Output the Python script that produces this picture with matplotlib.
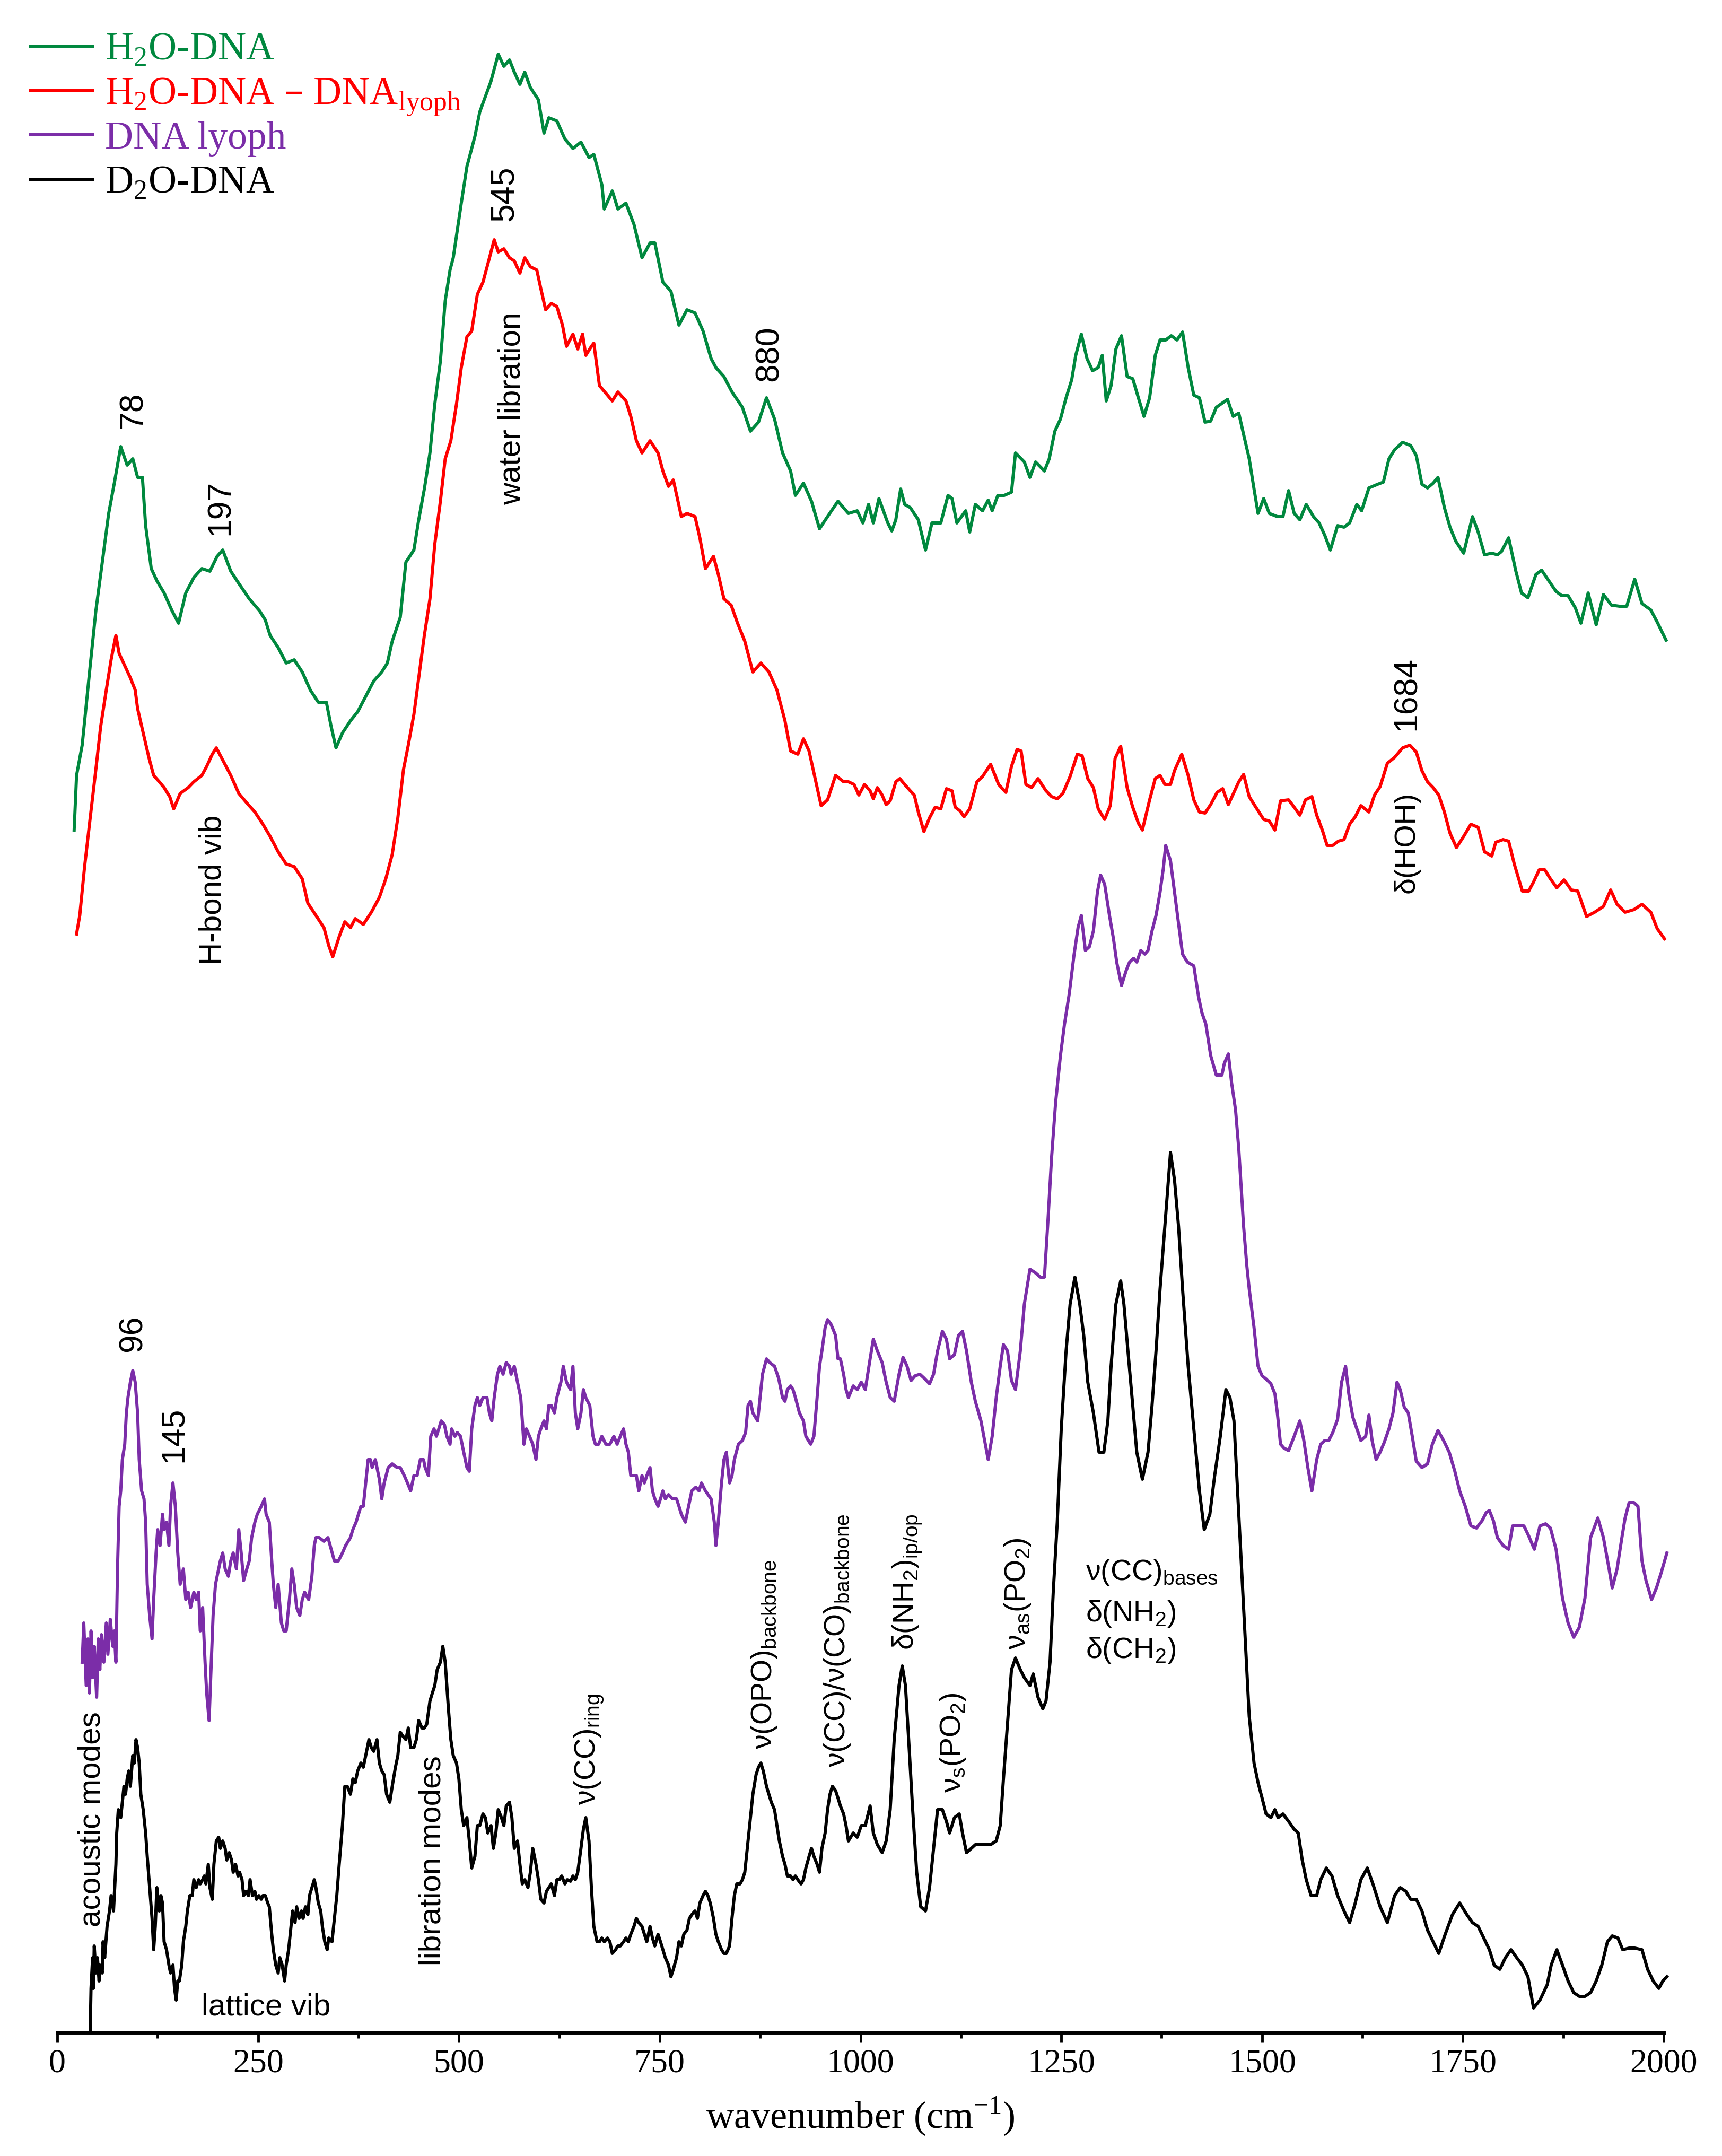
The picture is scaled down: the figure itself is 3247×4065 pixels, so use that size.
import matplotlib
matplotlib.use('Agg')
import matplotlib.pyplot as plt
from matplotlib.lines import Line2D
from matplotlib.ticker import MultipleLocator

plt.rcParams['font.family'] = ['Liberation Sans', 'DejaVu Sans']

# ---- spectra (wavenumber in cm-1, intensity in arbitrary offset units) ----
h2o_wn = [21, 24, 31, 41, 48, 57, 64, 71, 79, 87, 94, 100, 106, 110, 117, 124, 133, 143, 151, 160,
          170, 180, 190, 199, 206, 216, 226, 239, 252, 259, 265, 275, 285, 295, 305, 315, 325, 335, 341, 347,
          355, 365, 374, 384, 394, 404, 411, 417, 427, 434, 444, 450, 457, 464, 470, 477, 483, 489, 493, 503,
          510, 520, 526, 533, 540, 549, 556, 563, 569, 576, 582, 589, 599, 606, 612, 622, 632, 642, 652, 662,
          668, 678, 681, 691, 698, 708, 718, 728, 738, 744, 754, 764, 774, 784, 794, 804, 814, 820, 830, 840,
          853, 863, 873, 883, 893, 903, 913, 919, 929, 939, 949, 959, 972,
          985, 996, 1003, 1010, 1016, 1023, 1034, 1039, 1044, 1050, 1055, 1062, 1072, 1081, 1089, 1100, 1109, 1114, 1120, 1131,
          1136, 1143, 1152, 1159, 1164, 1171, 1179, 1188, 1193, 1204, 1211, 1218, 1229, 1235, 1242, 1249, 1256, 1263, 1268, 1275,
          1282, 1289, 1296, 1301, 1306, 1312, 1318, 1325, 1332, 1339, 1346, 1353, 1360, 1367, 1373, 1380, 1387, 1394, 1401, 1408,
          1415, 1422, 1429, 1436, 1443, 1457, 1464, 1471, 1477, 1484, 1490, 1495, 1502, 1509, 1519, 1526, 1533, 1540, 1547, 1555,
          1564, 1571, 1578, 1585, 1594, 1602, 1609, 1618, 1624, 1633, 1644, 1651, 1658, 1665, 1675, 1685, 1692, 1699, 1706, 1713,
          1719, 1727, 1734, 1741, 1751, 1762, 1769, 1777, 1786, 1793, 1798, 1807, 1816, 1823, 1831, 1841, 1848, 1857, 1866, 1873,
          1881, 1890, 1897, 1906, 1916, 1925, 1935, 1945, 1954, 1964, 1973, 1984, 1992, 2003]
h2o_int = [2267, 2370, 2427, 2577, 2680, 2783, 2864, 2921, 2990, 2955, 2967, 2932, 2932, 2841, 2760, 2737, 2714, 2680, 2657, 2714,
           2743, 2760, 2755, 2783, 2795, 2755, 2732, 2703, 2680, 2663, 2634, 2611, 2582, 2588, 2565, 2531, 2508, 2508, 2462, 2422,
           2450, 2473, 2490, 2519, 2548, 2565, 2582, 2623, 2668, 2772, 2795, 2852, 2910, 2978, 3070, 3151, 3265, 3323, 3346, 3449,
           3518, 3575, 3621, 3650, 3679, 3730, 3707, 3719, 3696, 3673, 3696, 3667, 3644, 3581, 3610, 3604, 3570, 3552, 3564, 3535,
           3541, 3484, 3438, 3472, 3438, 3449, 3409, 3346, 3374, 3374, 3300, 3283, 3219, 3248, 3242, 3208, 3156, 3139, 3122, 3093,
           3064, 3019, 3036, 3082, 3042, 2978, 2944, 2898, 2921, 2887, 2835, 2858, 2887,
           2864, 2869, 2846, 2881, 2846, 2892, 2846, 2831, 2852, 2910, 2881, 2875, 2852, 2795, 2846, 2846, 2898, 2892, 2846, 2869,
           2829, 2881, 2869, 2889, 2869, 2898, 2898, 2904, 2978, 2961, 2932, 2961, 2944, 2967, 3019, 3042, 3082, 3116, 3162, 3202,
           3156, 3133, 3139, 3162, 3076, 3105, 3174, 3199, 3122, 3118, 3082, 3047, 3082, 3162, 3191, 3191, 3199, 3191, 3206, 3139,
           3087, 3082, 3036, 3038, 3064, 3079, 3047, 3053, 3013, 2967, 2910, 2864, 2892, 2864, 2858, 2858, 2907, 2864, 2852, 2881,
           2858, 2846, 2823, 2795, 2841, 2838, 2846, 2881, 2869, 2912, 2919, 2923, 2967, 2984, 2998, 2992, 2973, 2919, 2912, 2921,
           2932, 2875, 2838, 2812, 2789, 2858, 2829, 2786, 2789, 2786, 2792, 2818, 2755, 2714, 2705, 2749, 2757, 2737, 2717, 2709,
           2709, 2686, 2657, 2714, 2654, 2711, 2691, 2689, 2689, 2740, 2694, 2682, 2659, 2625]

diff_wn = [24, 28, 34, 41, 48, 54, 61, 67, 73, 77, 84, 91, 97, 100, 107, 114, 120, 127, 133, 140,
           145, 153, 163, 170, 180, 186, 193, 198, 206, 216, 226, 236, 246, 256, 265, 275, 285, 295, 305, 312,
           322, 332, 338, 343, 351, 358, 365, 371, 381, 391, 401, 409, 417, 424, 431, 437, 444, 450, 457, 464,
           470, 477, 483, 490, 497, 503, 510, 516, 523, 530, 536, 544, 549, 556, 563, 569, 576, 582, 589, 597,
           602, 608, 615, 622, 629, 634, 642, 648, 654, 658, 665, 668, 675, 685, 691, 698, 708, 714, 721, 728,
           738, 748, 754, 761, 767, 777, 784, 794, 800, 807, 817, 823, 830, 839, 847, 856, 866, 876, 886, 896,
           906, 913, 922, 929, 936, 946, 951, 959, 969, 979,
           985, 992, 998, 1005, 1012, 1016, 1021, 1027, 1032, 1037, 1044, 1049, 1055, 1062, 1067, 1072, 1079, 1086, 1093, 1100,
           1107, 1114, 1118, 1124, 1129, 1136, 1145, 1152, 1162, 1172, 1181, 1188, 1195, 1200, 1206, 1213, 1221, 1231, 1238, 1245,
           1252, 1261, 1270, 1276, 1283, 1290, 1296, 1304, 1311, 1317, 1324, 1332, 1339, 1346, 1351, 1360, 1367, 1373, 1379, 1386,
           1391, 1400, 1408, 1415, 1422, 1429, 1436, 1444, 1451, 1458, 1465, 1471, 1477, 1484, 1491, 1502, 1509, 1516, 1523, 1533,
           1540, 1547, 1554, 1562, 1568, 1575, 1581, 1588, 1595, 1602, 1609, 1616, 1623, 1633, 1640, 1647, 1656, 1665, 1675, 1684,
           1692, 1699, 1706, 1713, 1720, 1727, 1734, 1742, 1751, 1760, 1769, 1777, 1786, 1791, 1800, 1807, 1814, 1824, 1832, 1838,
           1845, 1852, 1859, 1867, 1876, 1885, 1893, 1904, 1914, 1925, 1934, 1942, 1952, 1963, 1973, 1984, 1992, 2001]
diff_int = [2071, 2106, 2198, 2290, 2381, 2462, 2531, 2588, 2634, 2600, 2577, 2554, 2531, 2496, 2450, 2404, 2370, 2358, 2347, 2330,
            2307, 2336, 2347, 2358, 2370, 2387, 2410, 2422, 2399, 2370, 2336, 2318, 2301, 2278, 2255, 2226, 2203, 2198, 2175, 2129,
            2106, 2083, 2049, 2028, 2066, 2094, 2083, 2100, 2089, 2112, 2140, 2175, 2221, 2290, 2381, 2427, 2485, 2554, 2634, 2703,
            2806, 2887, 2967, 3001, 3070, 3139, 3197, 3208, 3277, 3300, 3334, 3380, 3357, 3363, 3346, 3340, 3317, 3346, 3329, 3323,
            3288, 3248, 3260, 3254, 3219, 3179, 3202, 3174, 3202, 3162, 3179, 3185, 3105, 3087, 3076, 3093, 3076, 3047, 3001, 2978,
            3001, 2978, 2944, 2915, 2927, 2858, 2864, 2858, 2818, 2760, 2783, 2749, 2703, 2691, 2657, 2623, 2565, 2582, 2565, 2531,
            2473, 2416, 2410, 2439, 2416, 2347, 2313, 2324, 2370, 2358,
            2358, 2353, 2333, 2353, 2341, 2326, 2347, 2333, 2315, 2322, 2358, 2364, 2353, 2341, 2333, 2301, 2264, 2290, 2310, 2307,
            2345, 2341, 2310, 2303, 2292, 2307, 2358, 2368, 2391, 2353, 2338, 2387, 2419, 2416, 2353, 2347, 2364, 2341, 2330, 2326,
            2336, 2368, 2410, 2407, 2364, 2347, 2307, 2287, 2313, 2402, 2425, 2347, 2310, 2280, 2267, 2324, 2364, 2370, 2353, 2353,
            2379, 2410, 2370, 2324, 2301, 2299, 2315, 2338, 2345, 2315, 2338, 2358, 2372, 2330, 2313, 2287, 2284, 2267, 2322, 2324,
            2310, 2295, 2324, 2330, 2295, 2267, 2238, 2238, 2246, 2249, 2278, 2292, 2313, 2301, 2333, 2349, 2393, 2404, 2422, 2427,
            2414, 2379, 2358, 2347, 2333, 2301, 2261, 2234, 2255, 2278, 2272, 2226, 2218, 2244, 2249, 2246, 2203, 2152, 2152, 2169,
            2192, 2192, 2175, 2158, 2173, 2154, 2152, 2104, 2112, 2123, 2154, 2127, 2112, 2117, 2127, 2112, 2081, 2062]

lyo_wn = [31, 33, 36, 38, 40, 42, 44, 46, 49, 51, 53, 55, 58, 61, 63, 66, 69, 71, 73, 75,
          77, 79, 81, 84, 86, 88, 91, 94, 97, 100, 102, 105, 108, 110, 112, 115, 118, 120, 123, 125,
          128, 131, 133, 136, 139, 141, 144, 147, 150, 153, 157, 160, 163, 166, 170, 173, 176, 178, 181, 184,
          186, 189, 191, 194, 197, 199, 203, 206, 209, 213, 216, 219, 223, 226, 229, 232, 236, 239, 242, 246,
          249, 254, 258, 260, 264, 267, 269, 272, 275, 279, 282, 285, 289, 292, 295, 298, 302, 305, 308, 313,
          317, 320, 322, 326, 332, 337, 341, 345, 350, 355, 359, 365, 368, 372, 378, 381, 384, 387, 390, 392,
          396, 401, 404, 407, 412, 417, 423, 427, 432, 436, 440, 444, 448, 452, 456, 458, 462, 465, 469, 472,
          475, 478, 482, 485, 489, 491, 495, 498, 502, 506, 510, 513, 516, 520, 523, 526, 530, 535, 538, 541,
          544, 548, 551, 555, 559, 563, 565, 569, 573, 577, 581, 584, 588, 592, 596, 599, 602, 606, 609, 612,
          615, 619, 622, 627, 630, 634, 639, 642, 645, 648, 652, 655, 658, 663, 667, 670, 674, 678, 683, 688,
          693, 697, 701, 705, 708, 711, 714, 718, 721, 724, 728, 731, 734, 738, 741, 744, 748, 751, 754, 757,
          761, 766, 771, 774, 777, 782, 786, 790, 795, 799, 802, 807, 814, 818, 820, 823, 827, 830, 833, 837,
          840, 843, 848, 853, 857, 860, 863, 866, 872, 874, 878, 883, 887, 893, 898, 903, 906, 909, 913, 916,
          919, 924, 929, 932, 938, 942, 946, 949, 952, 956, 959, 963, 965, 969, 972, 975, 979, 982,
          985, 991, 996, 1001, 1006, 1012, 1016, 1021, 1027, 1032, 1037, 1042, 1048, 1053, 1058, 1063, 1068, 1074, 1079, 1086,
          1091, 1096, 1102, 1107, 1111, 1117, 1122, 1127, 1132, 1138, 1143, 1150, 1159, 1164, 1169, 1174, 1178, 1183, 1188, 1193,
          1199, 1204, 1211, 1218, 1224, 1229, 1233, 1238, 1243, 1249, 1254, 1260, 1266, 1271, 1275, 1280, 1285, 1290, 1295, 1299,
          1304, 1310, 1315, 1319, 1325, 1331, 1335, 1340, 1344, 1349, 1354, 1358, 1363, 1368, 1373, 1377, 1380, 1386, 1391, 1396,
          1401, 1407, 1415, 1421, 1425, 1430, 1436, 1443, 1450, 1453, 1458, 1462, 1467, 1471, 1474, 1477, 1481, 1484, 1490, 1495,
          1500, 1505, 1511, 1516, 1519, 1523, 1527, 1533, 1540, 1547, 1552, 1557, 1562, 1568, 1573, 1578, 1583, 1588, 1594, 1599,
          1604, 1608, 1613, 1618, 1623, 1629, 1633, 1637, 1642, 1647, 1652, 1658, 1663, 1668, 1672, 1677, 1682, 1687, 1692, 1699,
          1706, 1712, 1719, 1726, 1733, 1740, 1746, 1753, 1760, 1767, 1774, 1779, 1783, 1788, 1793, 1800, 1807, 1812, 1819, 1826,
          1832, 1839, 1846, 1853, 1859, 1866, 1874, 1881, 1888, 1895, 1902, 1909, 1918, 1925, 1932, 1936, 1942, 1948, 1952, 1957,
          1963, 1968, 1973, 1978, 1985, 1991, 1997, 2004]
lyo_int = [698, 772, 654, 742, 640, 757, 669, 728, 632, 742, 684, 750, 698, 772, 713, 779, 728, 757, 698, 874,
           992, 1021, 1080, 1109, 1168, 1197, 1226, 1248, 1226, 1168, 1080, 1021, 1006, 962, 845, 786, 742, 816, 904, 948,
           918, 977, 948, 962, 918, 992, 1036, 992, 904, 845, 874, 816, 830, 801, 830, 816, 830, 757, 801, 698,
           640, 588, 669, 786, 845, 860, 889, 904, 874, 860, 889, 904, 874, 948, 904, 852, 874, 889, 933, 962,
           977, 992, 1006, 977, 962, 889, 845, 801, 845, 772, 757, 757, 816, 874, 845, 801, 786, 816, 830, 816,
           860, 918, 933, 933, 926, 933, 911, 889, 889, 904, 918, 933, 948, 962, 992, 992, 1036, 1080, 1080, 1065,
           1080, 1043, 1006, 1036, 1065, 1072, 1065, 1065, 1050, 1036, 1021, 1050, 1050, 1080, 1080, 1065, 1050, 1124, 1138, 1124,
           1138, 1153, 1146, 1124, 1109, 1138, 1124, 1131, 1124, 1094, 1065, 1058, 1138, 1182, 1197, 1182, 1197, 1197, 1168, 1153,
           1197, 1241, 1256, 1241, 1263, 1256, 1241, 1256, 1226, 1197, 1109, 1138, 1124, 1109, 1080, 1124, 1138, 1153, 1138, 1182,
           1182, 1168, 1197, 1226, 1256, 1226, 1212, 1256, 1168, 1138, 1168, 1212, 1197, 1182, 1124, 1109, 1109, 1124, 1109, 1109,
           1124, 1109, 1124, 1138, 1109, 1094, 1050, 1050, 1050, 1021, 1050, 1036, 1050, 1065, 1021, 1006, 992, 1006, 1021, 1006,
           1014, 1006, 1006, 992, 977, 962, 992, 1021, 1028, 1021, 1036, 1021, 1006, 962, 918, 962, 1036, 1080, 1094, 1036,
           1050, 1080, 1109, 1116, 1131, 1182, 1190, 1168, 1153, 1182, 1241, 1270, 1263, 1256, 1234, 1197, 1190, 1212, 1219, 1212,
           1197, 1168, 1153, 1124, 1109, 1124, 1197, 1256, 1285, 1329, 1344, 1336, 1329, 1314, 1270, 1270, 1241, 1212,
           1197, 1219, 1212, 1226, 1212, 1270, 1307, 1285, 1263, 1226, 1197, 1190, 1241, 1273, 1256, 1229, 1238, 1241, 1234, 1223,
           1241, 1285, 1322, 1307, 1270, 1278, 1314, 1322, 1285, 1226, 1190, 1153, 1080, 1124, 1197, 1256, 1297, 1285, 1229, 1212,
           1285, 1373, 1439, 1432, 1424, 1424, 1520, 1651, 1754, 1842, 1901, 1959, 2033, 2084, 2106, 2040, 2047, 2077, 2150, 2182,
           2165, 2106, 2062, 2018, 1974, 2003, 2018, 2025, 2018, 2040, 2033, 2040, 2077, 2106, 2150, 2194, 2238, 2209, 2150, 2091,
           2033, 2018, 2011, 1952, 1923, 1901, 1842, 1805, 1805, 1827, 1845, 1791, 1739, 1666, 1593, 1520, 1446, 1402, 1329, 1256,
           1238, 1232, 1223, 1204, 1168, 1109, 1102, 1097, 1124, 1153, 1116, 1065, 1021, 1080, 1109, 1116, 1116, 1131, 1156, 1226,
           1256, 1204, 1160, 1138, 1116, 1124, 1164, 1116, 1080, 1094, 1112, 1138, 1168, 1226, 1212, 1179, 1168, 1124, 1077, 1065,
           1072, 1109, 1135, 1116, 1094, 1058, 1021, 992, 955, 951, 965, 980, 984, 965, 933, 918, 911, 955, 955, 955,
           936, 911, 955, 959, 951, 911, 819, 772, 745, 764, 819, 933, 970, 933, 874, 838, 874, 933, 970, 999,
           999, 992, 889, 852, 816, 838, 867, 904]

d2o_wn = [41, 42, 44, 45, 46, 48, 50, 52, 53, 56, 57, 59, 62, 65, 67, 70, 73, 74, 76, 79,
          81, 83, 85, 87, 89, 91, 94, 96, 98, 100, 102, 104, 107, 110, 112, 115, 118, 120, 122, 124,
          127, 129, 131, 133, 136, 139, 141, 144, 146, 148, 150, 152, 155, 157, 160, 162, 165, 168, 170, 173,
          176, 178, 181, 183, 185, 188, 190, 193, 195, 198, 201, 203, 206, 209, 211, 214, 217, 219, 222, 225,
          227, 230, 232, 235, 238, 240, 243, 246, 248, 251, 254, 256, 259, 262, 264, 267, 269, 272, 275, 277,
          280, 283, 285, 288, 291, 293, 296, 298, 301, 304, 306, 309, 312, 314, 317, 320, 322, 325, 328, 330,
          333, 336, 338, 342, 345, 348, 351, 355, 358, 361, 365, 368, 371, 374, 378, 381, 384, 388, 391, 394,
          398, 401, 404, 407, 410, 414, 417, 421, 424, 427, 430, 434, 437, 440, 444, 447, 450, 454, 457, 460,
          464, 467, 470, 473, 477, 480, 483, 485, 487, 490, 493, 497, 500, 503, 506, 510, 513, 516, 520, 523,
          526, 530, 533, 536, 540, 543, 546, 549, 553, 556, 559, 563, 566, 569, 573, 576, 579, 582, 586, 589,
          592, 596, 599, 602, 606, 609, 612, 615, 619, 622, 625, 628, 632, 635, 639, 642, 645, 648, 652, 655,
          658, 662, 665, 668, 672, 675, 678, 681, 685, 688, 691, 695, 698, 701, 705, 708, 711, 714, 718, 721,
          724, 728, 731, 734, 738, 741, 744, 748, 751, 754, 757, 761, 764, 767, 771, 774, 777, 780, 784, 787,
          790, 794, 797, 800, 804, 807, 810, 813, 817, 820, 823, 827, 830, 833, 837, 840, 843, 846, 850, 853,
          856, 860, 863, 866, 870, 873, 876, 879, 883, 886, 889, 893, 896, 899, 903, 906, 909, 913, 916, 919,
          922, 926, 929, 932, 936, 939, 942, 946, 949, 952, 956, 959, 962, 965, 969, 972, 975, 979, 982,
          985, 991, 996, 1001, 1006, 1012, 1016, 1021, 1027, 1032, 1037, 1042, 1048, 1052, 1056, 1060, 1065, 1070, 1075, 1081,
          1086, 1091, 1096, 1102, 1107, 1111, 1117, 1123, 1127, 1132, 1138, 1143, 1148, 1155, 1162, 1169, 1174, 1178, 1183, 1188,
          1193, 1199, 1204, 1211, 1215, 1221, 1227, 1231, 1236, 1240, 1245, 1250, 1256, 1261, 1267, 1273, 1278, 1283, 1290, 1297,
          1303, 1308, 1312, 1318, 1324, 1328, 1333, 1339, 1344, 1351, 1358, 1363, 1368, 1373, 1379, 1386, 1391, 1396, 1401, 1408,
          1415, 1422, 1428, 1435, 1441, 1448, 1455, 1460, 1465, 1469, 1474, 1479, 1484, 1490, 1495, 1500, 1505, 1511, 1516, 1520,
          1526, 1533, 1540, 1545, 1550, 1555, 1561, 1568, 1573, 1580, 1587, 1594, 1602, 1609, 1616, 1623, 1631, 1638, 1647, 1656,
          1665, 1672, 1679, 1685, 1692, 1699, 1706, 1713, 1720, 1728, 1737, 1746, 1755, 1762, 1769, 1776, 1783, 1789, 1796, 1803,
          1810, 1817, 1824, 1831, 1838, 1846, 1855, 1860, 1867, 1874, 1881, 1888, 1895, 1902, 1909, 1916, 1923, 1930, 1936, 1943,
          1949, 1957, 1964, 1973, 1980, 1987, 1994, 1999, 2004]
d2o_int = [2, 83, 141, 83, 163, 112, 141, 97, 127, 112, 171, 141, 200, 229, 258, 229, 317, 376, 420, 405,
           434, 464, 449, 478, 493, 464, 522, 508, 552, 537, 508, 449, 420, 376, 332, 273, 215, 156, 200, 273,
           229, 258, 244, 171, 156, 127, 112, 127, 83, 61, 97, 97, 127, 171, 200, 229, 258, 258, 288, 273,
           288, 280, 288, 295, 280, 317, 273, 251, 317, 361, 368, 347, 361, 347, 325, 339, 325, 302, 317, 295,
           302, 288, 258, 266, 258, 288, 258, 266, 251, 258, 251, 258, 258, 244, 237, 185, 156, 127, 112, 141,
           127, 97, 127, 156, 200, 229, 207, 237, 215, 229, 215, 237, 222, 258, 273, 288, 273, 244, 229, 200,
           171, 156, 178, 171, 215, 258, 317, 390, 464, 464, 449, 478, 471, 493, 508, 500, 522, 552, 537, 530,
           552, 508, 493, 486, 449, 434, 464, 500, 522, 566, 559, 552, 574, 537, 537, 552, 588, 574, 574, 581,
           625, 640, 654, 684, 698, 728, 698, 654, 610, 552, 522, 508, 478, 420, 390, 405, 361, 310, 332, 390,
           390, 412, 405, 376, 390, 347, 376, 420, 405, 390, 427, 434, 405, 347, 361, 317, 280, 288, 273, 302,
           347, 317, 288, 251, 244, 266, 273, 280, 258, 288, 288, 295, 280, 288, 285, 295, 288, 302, 347, 383,
           405, 361, 273, 200, 171, 171, 178, 171, 178, 171, 149, 156, 163, 163, 171, 178, 171, 185, 200, 215,
           207, 200, 185, 171, 200, 178, 163, 185, 171, 156, 141, 127, 105, 119, 141, 171, 163, 185, 193, 215,
           222, 229, 215, 244, 258, 266, 258, 244, 215, 185, 171, 156, 149, 149, 163, 215, 258, 280, 280, 288,
           302, 361, 405, 449, 486, 500, 508, 493, 464, 449, 434, 420, 390, 361, 332, 317, 295, 295, 288, 295,
           288, 280, 288, 310, 332, 347, 332, 317, 302, 347, 376, 420, 449, 464, 456, 442, 427, 412, 390,
           361, 376, 368, 390, 390, 427, 376, 354, 339, 361, 420, 552, 654, 691, 654, 552, 420, 302, 237, 229,
           273, 347, 420, 420, 398, 376, 405, 412, 376, 339, 347, 354, 354, 354, 354, 361, 390, 478, 581, 684,
           706, 684, 669, 654, 676, 632, 610, 625, 698, 830, 962, 1138, 1285, 1373, 1424, 1373, 1314, 1226, 1168, 1094,
           1094, 1153, 1256, 1373, 1417, 1373, 1285, 1182, 1094, 1043, 1094, 1182, 1285, 1402, 1520, 1659, 1607, 1520, 1402, 1256,
           1138, 1021, 948, 977, 1050, 1124, 1212, 1197, 1153, 1036, 889, 742, 596, 508, 471, 442, 412, 405, 420, 405,
           412, 398, 383, 376, 325, 288, 258, 258, 288, 310, 295, 258, 229, 207, 244, 288, 310, 280, 237, 207,
           258, 273, 266, 251, 251, 229, 193, 171, 149, 185, 222, 244, 222, 207, 200, 178, 156, 127, 119, 141,
           156, 141, 127, 105, 46, 61, 90, 127, 156, 127, 97, 75, 68, 68, 75, 97, 127, 171, 182, 178,
           156, 159, 159, 156, 119, 97, 83, 97, 105]

series_labels = ['H$_\\mathregular{2}$O-DNA',
                 'H$_\\mathregular{2}$O-DNA \u2013 DNA$_\\mathregular{lyoph}$',
                 'DNA lyoph',
                 'D$_\\mathregular{2}$O-DNA']
series_colors = ['#00883E', '#FF0000', '#7B2DA8', '#000000']

xticks = [0, 250, 500, 750, 1000, 1250, 1500, 1750, 2000]

# peak labels: (text, x, y)
peak_labels = [('78', 94, 3059), ('197', 203, 2875), ('545', 556, 3467), ('880', 886, 3165),
               ('1684', 1680, 2525), ('96', 94, 1318), ('145', 145, 1127)]
band_labels = [('water libration', 566, 3062), ('H-bond vib', 194, 2154),
               ('acoustic modes', 43, 402), ('libration modes', 467, 324)]
mode_labels = [('\u03b4(HOH)', 1680, 2244),
               ('\u03bd(CC)$_\\mathregular{ring}$', 662, 534),
               ('\u03bd(OPO)$_\\mathregular{backbone}$', 880, 713),
               ('\u03bd(CC)/\u03bd(CO)$_\\mathregular{backbone}$', 971, 739),
               ('\u03b4(NH$_\\mathregular{2}$)$_\\mathregular{ip/op}$', 1058, 849),
               ('\u03bd$_\\mathregular{s}$(PO$_\\mathregular{2}$)', 1115, 546),
               ('\u03bd$_\\mathregular{as}$(PO$_\\mathregular{2}$)', 1196, 827)]
bases_lines = [('\u03bd(CC)$_\\mathregular{bases}$', 867),
               ('\u03b4(NH$_\\mathregular{2}$)', 789),
               ('\u03b4(CH$_\\mathregular{2}$)', 720)]


def main():
    W, H = 3247, 4065
    fig = plt.figure(figsize=(W / 100, H / 100), dpi=100)
    ax = fig.add_axes([108 / W, 233 / H, 3029 / W, 3832 / H])
    ax.patch.set_visible(False)

    data = [(h2o_wn, h2o_int), (diff_wn, diff_int), (lyo_wn, lyo_int), (d2o_wn, d2o_int)]
    for (x, y), c in zip(data, series_colors):
        ax.plot(x, y, color=c, lw=4.3, solid_joinstyle='round', clip_on=False)

    ax.set_xlim(0, 2000)
    ax.set_ylim(0, 3832)
    for s in ['left', 'top', 'right']:
        ax.spines[s].set_visible(False)
    ax.spines['bottom'].set_linewidth(5)
    ax.set_yticks([])
    ax.set_xticks(xticks)
    ax.xaxis.set_minor_locator(MultipleLocator(125))
    ax.tick_params(axis='x', which='major', direction='out', length=14, width=3.5, pad=8,
                   labelsize=46, labelfontfamily='Liberation Serif')
    ax.tick_params(axis='x', which='minor', direction='out', length=8, width=3.5)
    ax.set_xlabel('wavenumber (cm$^\\mathregular{-1}$)', fontsize=52, family='Liberation Serif', labelpad=22)

    for t, x, y in peak_labels:
        ax.text(x, y, t, rotation=90, ha='center', va='center', fontsize=45)
    for t, x, y in band_labels:
        ax.text(x, y, t, rotation=90, ha='center', va='center', fontsize=42)
    for t, x, y in mode_labels:
        ax.text(x, y, t, rotation=90, ha='center', va='center', fontsize=40)
    for t, y in bases_lines:
        ax.text(1280, y, t, ha='left', va='center', fontsize=40)
    ax.text(260, 47, 'lattice vib', ha='center', va='center', fontsize=42)

    # legend drawn by hand so the rows sit evenly
    for i, (lab, c) in enumerate(zip(series_labels, series_colors)):
        yl = 1 - (87 + 83.7 * i) / H
        fig.add_artist(Line2D([57 / W, 175 / W], [yl, yl], color=c, lw=4.3))
        fig.text(198 / W, yl - 26 / H, lab, color=c, fontsize=53, family='Liberation Serif', va='baseline')

    fig.savefig('out.png', dpi=100, facecolor='white')


if __name__ == '__main__':
    main()
